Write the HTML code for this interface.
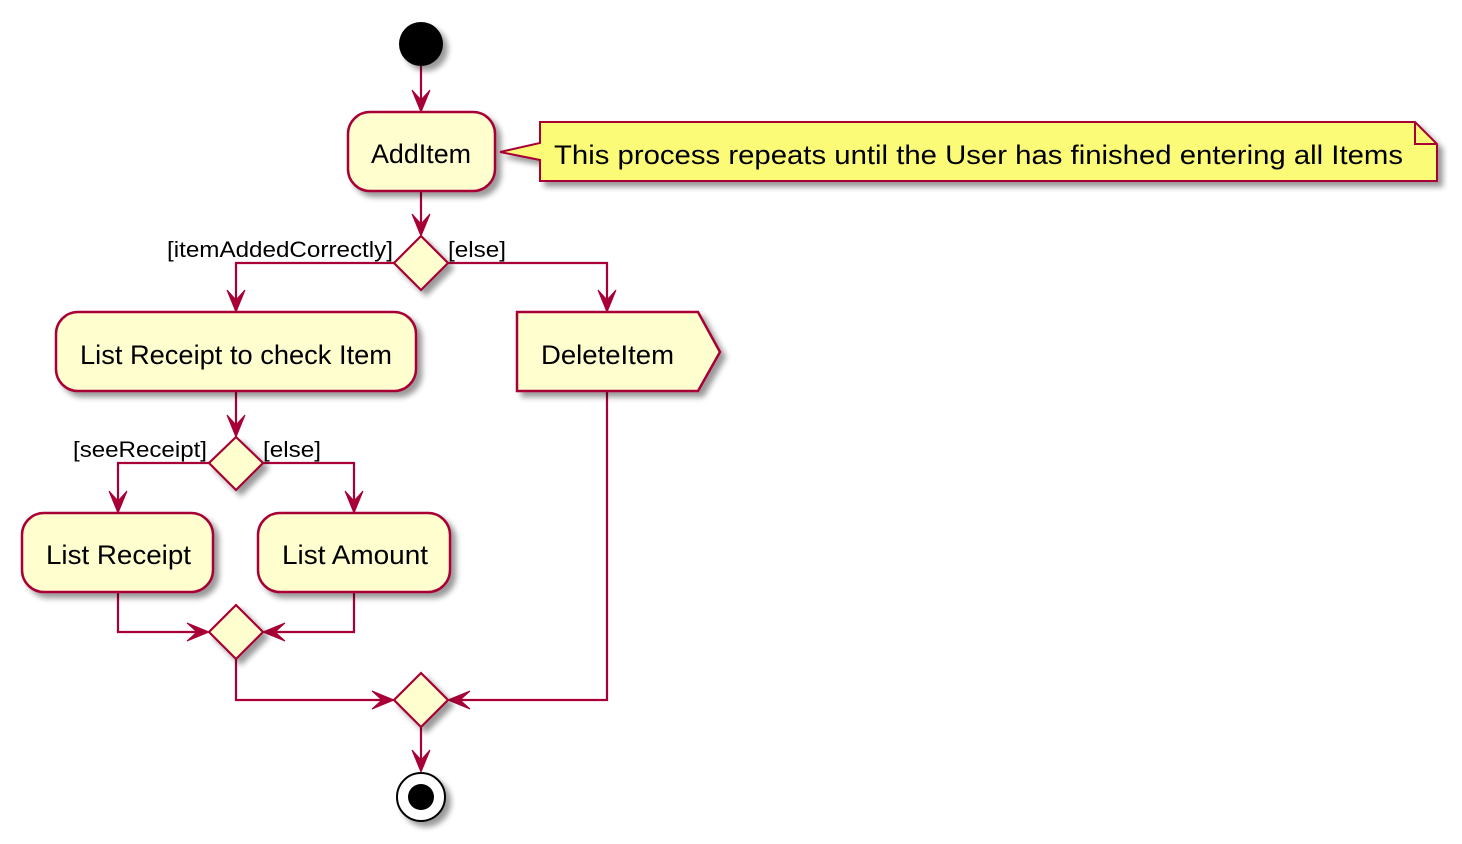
<!DOCTYPE html>
<html><head><meta charset="utf-8"><style>html,body{margin:0;padding:0;background:#fff}svg{display:block}</style></head>
<body>
<svg width="1462" height="844" viewBox="0 0 1462 844" xmlns="http://www.w3.org/2000/svg" font-family="'Liberation Sans', sans-serif">
<defs>
<filter id="sh" x="-20%" y="-20%" width="150%" height="160%">
<feGaussianBlur in="SourceAlpha" stdDeviation="3"/>
<feOffset dx="5" dy="5" result="b"/>
<feComponentTransfer><feFuncA type="linear" slope="0.4"/></feComponentTransfer>
<feMerge><feMergeNode/><feMergeNode in="SourceGraphic"/></feMerge>
</filter>
<path id="ad" d="M0,0 L-9,-22 L0,-12 L9,-22 Z" fill="#A80036" stroke="#A80036" stroke-width="1"/>
</defs>
<g stroke="#A80036" stroke-width="2.2" fill="none">
<line x1="421" y1="66" x2="421" y2="108"/>
<line x1="421" y1="191" x2="421" y2="232"/>
<polyline points="394,263 236,263 236,308"/>
<polyline points="448,263 607,263 607,308"/>
<line x1="236" y1="391" x2="236" y2="433"/>
<polyline points="209,463 118,463 118,509"/>
<polyline points="263,463 354,463 354,509"/>
<polyline points="118,592 118,632 205,632"/>
<polyline points="354,592 354,632 267,632"/>
<polyline points="236,659 236,700 390,700"/>
<polyline points="607,391 607,700 452,700"/>
<line x1="421" y1="727" x2="421" y2="768"/>
</g>
<use href="#ad" transform="translate(421,112)"/>
<use href="#ad" transform="translate(421,236)"/>
<use href="#ad" transform="translate(236,312)"/>
<use href="#ad" transform="translate(607,312)"/>
<use href="#ad" transform="translate(236,437)"/>
<use href="#ad" transform="translate(118,513)"/>
<use href="#ad" transform="translate(354,513)"/>
<use href="#ad" transform="translate(209,632) rotate(-90)"/>
<use href="#ad" transform="translate(263,632) rotate(90)"/>
<use href="#ad" transform="translate(394,700) rotate(-90)"/>
<use href="#ad" transform="translate(448,700) rotate(90)"/>
<use href="#ad" transform="translate(421,772)"/>

<g filter="url(#sh)">
<circle cx="421" cy="44" r="22" fill="#000"/>
<rect x="348" y="112" width="147" height="79" rx="22" fill="#FEFECE" stroke="#A80036" stroke-width="2.5"/>
<path d="M540,122 L1415,122 L1437,144 L1437,181 L540,181 L540,160 L500,152 L540,143 Z" fill="#FBFB77" stroke="#A80036" stroke-width="2"/>
<path d="M1415,122 L1415,144 L1437,144" fill="none" stroke="#A80036" stroke-width="2"/>
<polygon points="421,236 448,263 421,290 394,263" fill="#FEFECE" stroke="#A80036" stroke-width="2.2"/>
<rect x="56" y="312" width="360" height="79" rx="22" fill="#FEFECE" stroke="#A80036" stroke-width="2.5"/>
<polygon points="517,312 698,312 720,352 698,391 517,391" fill="#FEFECE" stroke="#A80036" stroke-width="2.5"/>
<polygon points="236,437 263,463 236,490 209,463" fill="#FEFECE" stroke="#A80036" stroke-width="2.2"/>
<rect x="22" y="513" width="191" height="79" rx="22" fill="#FEFECE" stroke="#A80036" stroke-width="2.5"/>
<rect x="258" y="513" width="192" height="79" rx="22" fill="#FEFECE" stroke="#A80036" stroke-width="2.5"/>
<polygon points="236,605 263,632 236,659 209,632" fill="#FEFECE" stroke="#A80036" stroke-width="2.2"/>
<polygon points="421,673 448,700 421,727 394,700" fill="#FEFECE" stroke="#A80036" stroke-width="2.2"/>
<circle cx="421" cy="797" r="24" fill="#fff" stroke="#000" stroke-width="2"/>
<circle cx="421" cy="797" r="13" fill="#000"/>
</g>

<g fill="#000" font-size="27">
<text x="371" y="163" textLength="100" lengthAdjust="spacingAndGlyphs">AddItem</text>
<text x="554" y="164" textLength="849" lengthAdjust="spacingAndGlyphs">This process repeats until the User has finished entering all Items</text>
<text x="80" y="364" textLength="312" lengthAdjust="spacingAndGlyphs">List Receipt to check Item</text>
<text x="541" y="364" textLength="133" lengthAdjust="spacingAndGlyphs">DeleteItem</text>
<text x="46" y="564" textLength="145" lengthAdjust="spacingAndGlyphs">List Receipt</text>
<text x="282" y="564" textLength="146" lengthAdjust="spacingAndGlyphs">List Amount</text>
</g>
<g fill="#000" font-size="22">
<text x="167" y="257" textLength="226" lengthAdjust="spacingAndGlyphs">[itemAddedCorrectly]</text>
<text x="448" y="257" textLength="58" lengthAdjust="spacingAndGlyphs">[else]</text>
<text x="73" y="457" textLength="134" lengthAdjust="spacingAndGlyphs">[seeReceipt]</text>
<text x="263" y="457" textLength="58" lengthAdjust="spacingAndGlyphs">[else]</text>
</g>
</svg>
</body></html>
